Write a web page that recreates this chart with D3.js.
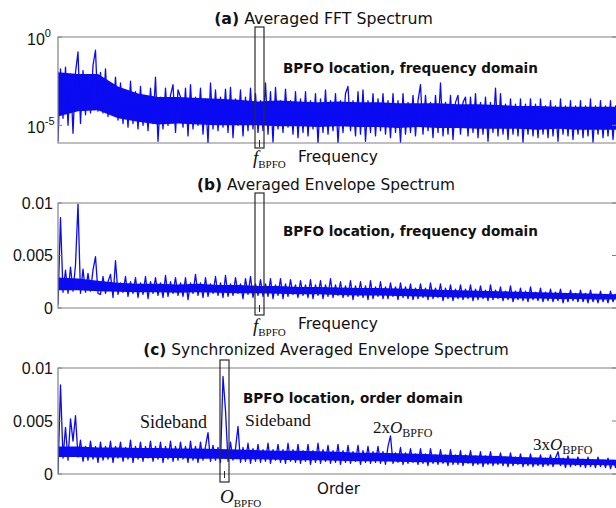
<!DOCTYPE html>
<html><head><meta charset="utf-8">
<script src="https://cdn.jsdelivr.net/npm/d3@7"></script>
<style>body{margin:0;background:#fff}svg{display:block}</style>
</head><body>
<script>
// ---------- DATA ----------
// (a) Averaged FFT spectrum, log10 of amplitude, per sample
const fftLog10 = [-5.9,
 -1.8,-4.6,-1.7,-5.0,-2.1,-5.45,-2.0,-0.85,-4.9,-1.9,-4.4,-2.2,-4.3,-1.6,-0.75,-4.2,
 -2.0,-4.3,-1.8,-4.5,-2.6,-4.4,-2.27,-4.7,-2.6,-4.9,-3.0,-5.1,-2.5,-4.9,-3.1,-5.2,
 -2.8,-5.0,-3.3,-5.3,-2.9,-4.9,-2.27,-5.9,-3.4,-5.2,-2.9,-5.0,-3.3,-2.7,-5.4,-3.0,
 -3.4,-5.1,-2.9,-5.6,-2.7,-5.2,-3.4,-5.0,-2.9,-5.5,-3.5,-6.0,-2.6,-5.2,-3.0,-5.3,
 -3.4,-5.1,-2.95,-5.4,-2.85,-5.7,-3.5,-5.0,-3.0,-5.6,-3.4,-5.3,-2.9,-5.2,-3.2,-5.4,
 -3.6,-5.3,-2.6,-5.5,-3.1,-5.95,-2.85,-5.2,-3.6,-5.4,-2.95,-5.1,-3.6,-5.5,-3.1,-5.7,
 -3.5,-5.4,-3.1,-5.6,-3.6,-5.2,-3.2,-6.0,-3.5,-5.4,-3.0,-5.5,-3.6,-5.3,-3.2,-6.0,
 -3.6,-5.4,-3.2,-2.8,-5.3,-3.6,-5.6,-3.1,-5.5,-3.0,-5.9,-3.6,-5.4,-3.2,-5.6,-3.5,
 -5.3,-3.2,-5.5,-3.6,-5.7,-3.2,-5.4,-3.6,-5.95,-3.2,-5.5,-3.7,-5.4,-3.3,-5.6,-3.6,
 -2.7,-5.5,-3.3,-5.3,-3.7,-5.7,-3.3,-5.4,-2.6,-5.6,-3.7,-5.5,-3.3,-5.8,-3.7,-3.3,
 -5.5,-3.7,-3.4,-5.6,-3.4,-5.4,-3.2,-5.7,-3.7,-5.5,-3.4,-5.9,-3.7,-5.4,-2.9,-5.6,
 -3.2,-5.5,-3.8,-5.8,-3.5,-5.5,-3.8,-5.6,-3.5,-5.95,-3.8,-5.5,-3.5,-5.6,-3.8,-5.7,
 -3.5,-5.5,-3.9,-5.7,-3.6,-5.6,-3.9,-5.9,-3.5,-5.5,-3.9,-5.6,-3.6,-5.8,-3.9,-5.5,
 -3.6,-5.7,-3.9,-5.6,-3.5,-5.95,-3.9,-5.5,-3.6,-5.7,-3.9,-5.6,-3.6,-5.8,-3.9,-5.6];
// dense core of the FFT band (log10), evenly spaced across the same span
const fftCoreHigh = [-2.0,-2.1,-2.1,-2.8,-3.2,-3.4,-3.4,-3.45,-3.5,-3.55,-3.65,-3.6,-3.65,-3.7,-3.65,-3.7,-3.7,-3.75,-3.75,-3.75,-3.8,-3.8,-3.85,-3.9,-3.9,-3.95,-3.95,-3.95,-3.95];
const fftCoreLow  = [-4.5,-4.2,-4.15,-4.6,-4.8,-4.95,-4.9,-4.95,-5.0,-5.0,-5.0,-5.05,-5.05,-5.1,-5.05,-5.1,-5.1,-5.15,-5.1,-5.15,-5.15,-5.2,-5.2,-5.2,-5.25,-5.2,-5.25,-5.25,-5.25];

// (b) Averaged envelope spectrum, amplitude in units of 1e-3
const envMilli = [0.3,
 8.6,1.5,3.6,1.4,3.9,1.6,4.1,9.9,1.4,3.7,1.5,3.3,1.6,3.6,4.9,1.4,
 1.3,3.0,1.4,2.5,3.2,1.0,4.5,1.3,2.4,1.5,3.0,1.1,2.5,1.4,2.9,1.0,
 2.4,1.3,3.0,0.9,2.5,1.4,2.9,1.2,2.4,1.0,3.1,1.1,2.5,1.4,2.9,1.2,
 2.4,1.1,2.9,0.8,2.4,1.4,3.2,1.2,2.4,1.0,2.9,1.1,2.3,1.4,3.0,1.2,
 2.4,1.0,3.1,1.1,2.3,1.2,2.9,1.4,2.3,0.9,2.8,1.3,3.0,1.0,2.3,1.2,
 2.7,1.1,2.3,1.1,2.8,0.9,2.2,1.2,2.8,0.9,2.3,1.1,2.7,1.3,2.2,1.0,
 2.6,1.2,2.2,1.0,2.7,0.9,2.2,1.2,2.6,0.9,2.2,1.1,2.8,1.0,2.2,1.2,
 2.5,1.0,2.1,1.1,2.6,0.8,2.1,1.1,2.5,1.0,2.1,0.8,2.6,0.9,2.0,1.1,
 2.5,0.9,2.0,0.9,2.4,1.1,2.0,0.8,2.4,1.0,2.0,0.9,2.3,0.8,1.9,0.9,
 2.3,1.0,1.9,0.8,2.4,0.9,1.9,1.0,2.3,0.7,1.9,0.9,2.2,0.7,1.8,0.9,
 2.2,0.8,1.8,0.9,2.2,0.7,1.8,0.8,2.1,0.9,1.7,0.7,2.2,0.8,1.7,0.9,
 2.0,0.7,1.6,0.8,2.1,0.6,1.6,0.8,1.9,0.7,1.6,0.6,2.0,0.8,1.5,0.7,
 1.9,0.6,1.5,0.7,1.8,0.6,1.5,0.7,1.8,0.5,1.4,0.6,1.7,0.7,1.4,0.6,
 1.7,0.6,1.4,0.5,1.7,0.6,1.3,0.5,1.6,0.6,1.3,0.5,1.6,0.6,1.3,0.5];
const envCoreHigh = [2.9,2.8,2.6,2.4,2.3,2.3,2.25,2.3,2.2,2.2,2.1,2.1,2.0,2.0,1.95,1.9,1.9,1.85,1.8,1.75,1.7,1.65,1.6,1.55,1.5,1.45,1.4,1.35,1.3];
const envCoreLow  = [1.7,1.7,1.6,1.55,1.5,1.5,1.45,1.5,1.45,1.4,1.4,1.35,1.3,1.3,1.25,1.2,1.2,1.15,1.1,1.05,1.0,1.0,0.95,0.9,0.9,0.85,0.85,0.8,0.8];

// (c) Synchronized averaged envelope spectrum, amplitude in units of 1e-3
const syncEnvMilli = [0.1,
 8.4,1.5,4.4,1.3,5.2,3.1,5.5,1.6,3.2,1.2,2.6,1.3,3.1,1.4,2.6,1.1,
 3.0,1.3,2.6,1.4,3.1,1.1,2.6,1.5,3.0,1.2,2.5,1.4,3.2,1.1,2.6,1.4,
 3.0,1.2,2.6,1.5,3.1,1.2,2.6,1.4,3.0,1.1,2.6,1.4,3.1,1.2,2.6,1.3,
 3.0,1.4,2.6,1.1,3.1,1.3,2.6,1.1,3.0,1.3,2.6,3.9,1.2,2.7,1.3,2.5,
 1.1,9.2,6.0,1.2,3.0,1.3,2.4,4.5,1.1,2.5,1.2,2.9,1.0,2.4,1.2,2.8,
 1.1,2.3,1.2,2.9,1.0,2.3,1.3,2.8,1.1,2.3,1.0,2.9,1.2,2.3,1.1,2.8,
 1.0,2.2,1.2,2.8,0.9,2.2,1.1,2.9,1.0,2.3,1.2,2.7,1.0,2.2,1.1,2.8,
 0.9,2.2,1.1,2.7,1.0,2.1,1.2,2.7,0.9,2.2,1.1,2.6,1.0,2.1,1.1,2.6,
 1.0,2.1,0.9,2.6,3.6,1.0,2.0,1.1,2.5,0.9,2.0,1.0,2.4,1.1,1.9,0.9,
 2.4,1.0,1.9,0.8,2.4,1.0,1.8,0.9,2.3,1.0,1.8,0.8,2.3,0.9,1.8,0.9,
 2.2,0.8,1.8,1.0,2.2,0.8,1.7,0.9,2.1,0.7,1.7,0.9,2.1,0.8,1.6,0.9,
 2.0,0.8,1.6,0.7,2.0,0.8,1.6,0.9,1.9,0.7,1.5,0.8,1.9,0.7,1.5,0.8,
 1.8,0.7,1.5,0.8,1.8,0.7,1.5,2.1,0.8,1.5,0.6,1.7,0.7,1.4,0.8,1.6,
 0.7,1.4,0.6,1.6,0.7,1.3,0.6,1.6,0.7,1.3,0.6,1.5,0.5,1.3,0.6,1.2];
const syncCoreHigh = [2.6,2.6,2.5,2.5,2.45,2.45,2.4,2.4,2.35,2.3,2.25,2.2,2.2,2.15,2.1,2.0,2.0,1.95,1.9,1.85,1.8,1.75,1.7,1.6,1.55,1.5,1.45,1.4,1.35];
const syncCoreLow  = [1.6,1.6,1.55,1.55,1.5,1.5,1.5,1.45,1.45,1.4,1.4,1.35,1.3,1.3,1.25,1.2,1.2,1.15,1.1,1.1,1.05,1.0,1.0,0.95,0.9,0.9,0.85,0.85,0.8];

// marker positions (sample index)
const fBPFO = 80.6;
const oBPFO = 66.6;

// tick values / labels
const fftTickValues = [1, 1e-5];
const fftTickExponents = ["0", "-5"];
const envTickValues = [0.01, 0.005, 0];
const envTickLabels = ["0.01", "0.005", "0"];

const titles = [["(a)", " Averaged FFT Spectrum"], ["(b)", " Averaged Envelope Spectrum"], ["(c)", " Synchronized Averaged Envelope Spectrum"]];

// ---------- DRAWING ----------
const W = 616, H = 508;
const svg = d3.select("body").append("svg").attr("width", W).attr("height", H);
const BLUE = "#0b0bf2", FRAME = "#808080", BOX = "#2a2a2a";
const SANS = "'DejaVu Sans', sans-serif", ARIAL = "'Liberation Sans', Arial, sans-serif", SERIF = "'Liberation Serif', 'Times New Roman', serif";

const x = d3.scaleLinear().domain([0, fftLog10.length - 1]).range([58, 618]);

function fit(t, w) {
  const l = t.node().getComputedTextLength();
  const fs = parseFloat(t.attr("font-size"));
  t.attr("font-size", fs * w / l);
}

function panel(top, bottom, y, data, coreHi, coreLo, idx) {
  const g = svg.append("g");
  const cid = "clip" + idx;
  svg.append("clipPath").attr("id", cid).append("rect")
    .attr("x", 58).attr("y", top).attr("width", 570).attr("height", bottom - top);
  const xc = x.copy().domain([0, coreHi.length - 1]);
  g.append("path").datum(coreHi.map((v, i) => [v, coreLo[i]]))
    .attr("clip-path", `url(#${cid})`)
    .attr("fill", BLUE).attr("stroke", "none")
    .attr("d", d3.area().x((d, i) => xc(i)).y0(d => y(d[1])).y1(d => y(d[0])));
  g.append("path").datum(data)
    .attr("clip-path", `url(#${cid})`)
    .attr("fill", "none").attr("stroke", BLUE).attr("stroke-width", 1.3)
    .attr("stroke-linejoin", "round")
    .attr("d", d3.line().x((d, i) => x(i)).y(d => y(d)));
  g.append("path").attr("fill", "none").attr("stroke", FRAME).attr("stroke-width", 1.2)
    .attr("d", `M620,${top}H58V${bottom}H620`);
  return g;
}

function titleText(cx, base, parts, w) {
  const t = svg.append("text").attr("x", cx).attr("y", base).attr("text-anchor", "middle")
    .attr("font-family", SANS).attr("font-size", 14).attr("fill", "#111");
  t.append("tspan").attr("font-weight", "bold").text(parts[0]);
  t.append("tspan").text(parts[1]);
  fit(t, w);
}

function plainText(x0, base, str, w, opts) {
  const t = svg.append("text").attr("x", x0).attr("y", base)
    .attr("font-family", opts.family).attr("font-size", opts.size)
    .attr("font-weight", opts.weight || "normal").attr("fill", "#111").text(str);
  if (w) fit(t, w);
  return t;
}

function markerBox(cx, top, bottom, frameBottom) {
  svg.append("rect").attr("x", cx - 4.5).attr("y", top).attr("width", 9).attr("height", bottom - top)
    .attr("fill", "none").attr("stroke", BOX).attr("stroke-width", 1.2);
  svg.append("line").attr("x1", cx).attr("x2", cx).attr("y1", frameBottom - 3).attr("y2", frameBottom + 4)
    .attr("stroke", BOX).attr("stroke-width", 1);
}

function subLabel(x0, base, main, sub, mainSize, subSize, prefix) {
  const t = svg.append("text").attr("x", x0).attr("y", base).attr("font-family", SERIF).attr("fill", "#111");
  if (prefix) t.append("tspan").attr("font-size", mainSize).text(prefix);
  t.append("tspan").attr("font-size", mainSize).attr("font-style", "italic").text(main);
  t.append("tspan").attr("font-size", subSize).attr("dy", 4).text(sub);
  return t;
}

function yTicks(y, values) {
  values.forEach(v => {
    const yy = y(v);
    svg.append("line").attr("x1", 58).attr("x2", 62).attr("y1", yy).attr("y2", yy).attr("stroke", FRAME);
    svg.append("line").attr("x1", 612).attr("x2", 617).attr("y1", yy).attr("y2", yy).attr("stroke", FRAME);
  });
}

// ---- Panel (a)
const ya = d3.scaleLog().domain([1e-6, 1]).range([143, 37]);
const p10 = v => Math.pow(10, v);
panel(37, 143, ya, fftLog10.map(p10), fftCoreHigh.map(p10), fftCoreLow.map(p10), 0);
yTicks(ya, fftTickValues);
fftTickValues.forEach((v, i) => {
  const t = svg.append("text").attr("x", 27).attr("y", ya(v) + 7.5).attr("font-family", ARIAL).attr("fill", "#111");
  t.append("tspan").attr("font-size", 16).text("10");
  t.append("tspan").attr("font-size", 11).attr("dy", -8).text(fftTickExponents[i]);
});
titleText(323.5, 24, titles[0], 219);
plainText(283, 73, "BPFO location, frequency domain", 255, {family: SANS, size: 14, weight: "bold"});
markerBox(x(fBPFO), 27, 148, 143);
subLabel(253, 164, "f", "BPFO", 19, 11);
plainText(298, 162, "Frequency", 80, {family: SANS, size: 16});

// ---- Panel (b)
const milli = v => v / 1000;
const yb = d3.scaleLinear().domain([0, 0.01]).range([308, 203]);
panel(203, 308, yb, envMilli.map(milli), envCoreHigh.map(milli), envCoreLow.map(milli), 1);
yTicks(yb, envTickValues);
envTickValues.forEach((v, i) => {
  svg.append("text").attr("x", 53).attr("y", yb(v) + 5.5).attr("text-anchor", "end")
    .attr("font-family", ARIAL).attr("font-size", 16).attr("fill", "#111").text(envTickLabels[i]);
});
titleText(326, 190, titles[1], 258);
plainText(283, 236, "BPFO location, frequency domain", 255, {family: SANS, size: 14, weight: "bold"});
markerBox(x(fBPFO), 193, 315, 308);
subLabel(253, 332, "f", "BPFO", 19, 11);
plainText(298, 329, "Frequency", 80, {family: SANS, size: 16});

// ---- Panel (c)
const yc = d3.scaleLinear().domain([0, 0.01]).range([474, 368]);
panel(368, 474, yc, syncEnvMilli.map(milli), syncCoreHigh.map(milli), syncCoreLow.map(milli), 2);
yTicks(yc, envTickValues);
envTickValues.forEach((v, i) => {
  svg.append("text").attr("x", 53).attr("y", yc(v) + 5.5).attr("text-anchor", "end")
    .attr("font-family", ARIAL).attr("font-size", 16).attr("fill", "#111").text(envTickLabels[i]);
});
titleText(326, 355, titles[2], 366);
plainText(243, 403, "BPFO location, order domain", 220, {family: SANS, size: 14, weight: "bold"});
markerBox(x(oBPFO), 360, 482, 474);
subLabel(220, 503, "O", "BPFO", 19, 11);
plainText(317, 494, "Order", 43, {family: SANS, size: 16});
plainText(140, 428, "Sideband", 67, {family: SERIF, size: 18});
plainText(245, 426, "Sideband", 66, {family: SERIF, size: 18});
subLabel(373, 433, "O", "BPFO", 17, 12, "2x");
subLabel(533, 450, "O", "BPFO", 17, 12, "3x");
</script>
</body></html>
